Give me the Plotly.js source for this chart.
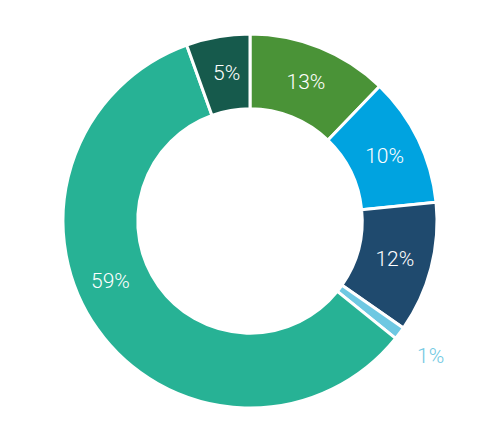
<!DOCTYPE html>
<html>
<head>
<meta charset="utf-8">
<script src="https://cdn.plot.ly/plotly-3.0.1.min.js"></script>
<style>html,body{margin:0;padding:0;background:#fff;}#chart{width:500px;height:442px;}</style>
</head>
<body>
<div id="chart"></div>
<script>
// Slice values (clockwise from 12 o'clock)
const sliceNames = ['A', 'B', 'C', 'D', 'E', 'F'];
const sliceValues = [12.2, 11.2, 11.3, 1.1, 58.7, 5.5];
const sliceLabels = ['13%', '10%', '12%', '1%', '59%', '5%'];
const sliceColors = ['#4a9337', '#00a3e0', '#1f4a6e', '#6ec8e2', '#27b295', '#165a4c'];
// Labels drawn by the pie itself; the 1%, 59% and 5% labels are placed as annotations
const labelPositions = ['inside', 'inside', 'inside', 'none', 'none', 'none'];

const labelFont = { family: 'Roboto, sans-serif', size: 21, weight: 300, color: '#ffffff' };
function py(pxY) { return (442 - pxY - 34) / 374; }
function px(pxX) { return pxX / 500; }

const trace = {
  type: 'pie',
  labels: sliceNames,
  values: sliceValues,
  text: sliceLabels,
  textinfo: 'text',
  textposition: labelPositions,
  insidetextorientation: 'horizontal',
  sort: false,
  direction: 'clockwise',
  rotation: 0,
  hole: 0.6,
  marker: { colors: sliceColors, line: { color: '#ffffff', width: 3 } },
  insidetextfont: labelFont,
  hoverinfo: 'none'
};

const layout = {
  width: 500,
  height: 442,
  margin: { l: 0, r: 0, t: 34, b: 34 },
  showlegend: false,
  uniformtext: { mode: 'show', minsize: 21 },
  paper_bgcolor: '#ffffff',
  plot_bgcolor: '#ffffff',
  annotations: [
    { text: sliceLabels[4], xref: 'paper', yref: 'paper', x: px(110), y: py(281),
      showarrow: false, xanchor: 'center', yanchor: 'middle', font: labelFont },
    { text: sliceLabels[5], xref: 'paper', yref: 'paper', x: px(226), y: py(73),
      showarrow: false, xanchor: 'center', yanchor: 'middle', font: labelFont },
    { text: sliceLabels[3], xref: 'paper', yref: 'paper', x: px(430), y: py(356),
      showarrow: false, xanchor: 'center', yanchor: 'middle',
      font: Object.assign({}, labelFont, { color: sliceColors[3] }) }
  ]
};

Plotly.newPlot('chart', [trace], layout, { displayModeBar: false, staticPlot: true });
</script>
</body>
</html>
